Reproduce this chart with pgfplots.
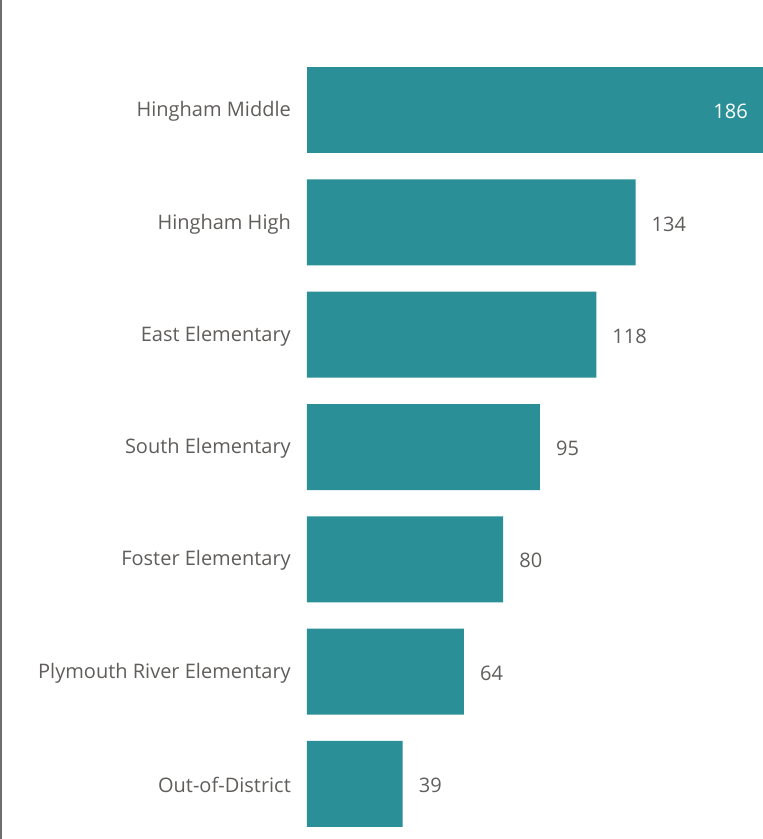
\documentclass[border=0pt]{standalone}
\usepackage{pgfplots}
\pgfplotsset{compat=1.18}
\usepackage{fontspec}
\setmainfont{Open Sans}
\definecolor{barc}{RGB}{43,143,151}
\definecolor{txt}{RGB}{96,94,92}
\definecolor{bord}{RGB}{110,110,110}
\begin{document}
\begin{tikzpicture}
\useasboundingbox (0,0) rectangle (763pt,839pt);
\fill[white] (0,0) rectangle (763pt,839pt);
\draw[bord, line width=2pt] (1pt,0) -- (1pt,839pt);
\begin{axis}[
  at={(307pt,-1pt)}, anchor=south west,
  scale only axis, width=456pt, height=786pt,
  xmin=0, xmax=186, ymin=-0.5, ymax=6.5,
  y dir=reverse,
  /pgf/number format/assume math mode=true,
  xbar, bar width=86pt, bar shift=0pt,
  axis line style={draw=none},
  major tick length=0pt,
  xtick=\empty,
  ytick={0,1,2,3,4,5,6},
  yticklabels={Hingham Middle,Hingham High,East Elementary,South Elementary,Foster Elementary,Plymouth River Elementary,Out-of-District},
  yticklabel style={font=\fontsize{20}{23}\selectfont, text=txt, inner sep=0pt, xshift=-16pt, yshift=-1.5pt},
  clip=false,
]
\addplot[fill=barc, draw=none,
  nodes near coords, nodes near coords style={font=\fontsize{20}{23}\selectfont, text=white, anchor=east, inner sep=0pt, xshift=-15pt, yshift=-1.5pt}]
  coordinates {(186,0)};
\addplot[fill=barc, draw=none,
  nodes near coords, nodes near coords style={font=\fontsize{20}{23}\selectfont, text=txt, anchor=west, inner sep=0pt, xshift=16pt, yshift=-1.5pt}]
  coordinates {(134,1) (118,2) (95,3) (80,4) (64,5) (39,6)};
\end{axis}
\end{tikzpicture}
\end{document}
